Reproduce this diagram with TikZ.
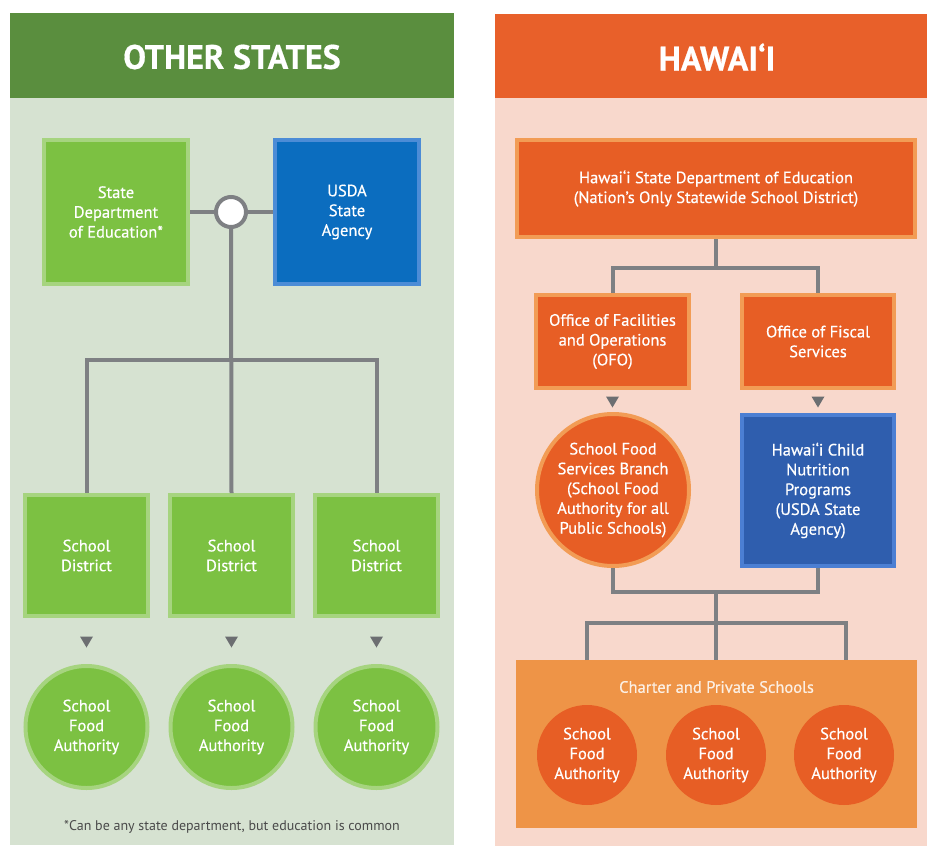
\documentclass[tikz,border=0pt]{standalone}
\usepackage{fontspec}
\setmainfont{PT Sans}[FakeBold=0.5]
\newfontfamily\plainfont{PT Sans}
\usetikzlibrary{calc}
\definecolor{hdgreen}{HTML}{5A8E3E}
\definecolor{bggreen}{HTML}{D6E2D1}
\definecolor{fgreen}{HTML}{7CC142}
\definecolor{bgreen}{HTML}{A6D47F}
\definecolor{hdorange}{HTML}{E8602A}
\definecolor{bgpink}{HTML}{F8D8CC}
\definecolor{forange}{HTML}{E75E25}
\definecolor{borange}{HTML}{F29C55}
\definecolor{charter}{HTML}{EE9447}
\definecolor{fblue}{HTML}{0B6DBF}
\definecolor{bblue}{HTML}{4C8CD6}
\definecolor{fblue2}{HTML}{2F5EAE}
\definecolor{bblue2}{HTML}{4C7FD3}
\definecolor{lgray}{HTML}{7E8083}
\definecolor{tgray}{HTML}{6C6E71}
\definecolor{ftext}{HTML}{4A4A4A}
\tikzset{
  body/.style={text=white,align=center,font=\fontsize{16.5}{19.8}\selectfont,inner sep=0pt},
  obox/.style={body,draw=borange,fill=forange,line width=4pt},
  bbox/.style={body,line width=4pt},
  gcirc/.style={body,circle,draw=bgreen,fill=fgreen,line width=4pt,minimum size=122pt},
  ocirc/.style={body,circle,fill=forange,minimum size=100pt},
  conn/.style={draw=lgray,line width=4pt},
  hdtext/.style={text=white,font=\fontsize{34}{34}\selectfont\bfseries},
}
\newcommand{\tri}[2]{\fill[tgray] (#1-6.5,#2-5.5) -- (#1+6.5,#2-5.5) -- (#1,#2+5.5) -- cycle;}
\begin{document}
\begin{tikzpicture}[x=1pt,y=-1pt]
\useasboundingbox (0,0) rectangle (927,846);
\fill[white] (0,0) rectangle (927,846);
% panels
\fill[bggreen] (10,98) rectangle (454,845);
\fill[hdgreen] (10,13) rectangle (454,98);
\fill[bgpink] (495,98) rectangle (927,846);
\fill[hdorange] (495,14) rectangle (927,98);
\node[hdtext] (h1) at (232,57) {OTHER STATES};
\node[hdtext] (h2) at (717,57) {HAWAI‘I};
% ---------- left ----------
\node[body,draw=bgreen,fill=fgreen,line width=4pt,minimum width=144pt,minimum height=144pt] (sde) at (116,212) {State\\Department\\of Education*};
\node[body,draw=bblue,fill=fblue,line width=4pt,minimum width=144pt,minimum height=144pt] (usda) at (347,212) {USDA\\State\\Agency};
\node[circle,draw=lgray,fill=white,line width=4pt,minimum size=30pt,inner sep=0pt] (hub) at (231,212) {};
\draw[conn] (sde.east) -- (hub.west);
\draw[conn] (hub.east) -- (usda.west);
\foreach \i/\x in {1/86.5,2/231.5,3/376.5}{
  \node[body,draw=bgreen,fill=fgreen,line width=4pt,minimum width=123pt,minimum height=121pt] (sd\i) at (\x,555.5) {School\\District};
  \node[gcirc] (sfa\i) at (\x,727) {School\\Food\\Authority};
  \tri{\x}{642}
}
\coordinate (bus) at (231.5,360);
\draw[conn] (hub.south) -- (sd2.north);
\draw[conn] (sd1.north) |- (bus) -| (sd3.north);
\node[text=ftext,font=\plainfont\fontsize{14}{14}\selectfont] (note) at (232,827) {*Can be any state department, but education is common};
% ---------- right ----------
\node[obox,minimum width=398pt,minimum height=97pt] (hdoe) at (716,188.5) {Hawai‘i State Department of Education\\(Nation’s Only Statewide School District)};
\node[obox,minimum width=153pt,minimum height=93pt] (ofo) at (612.5,341.5) {Office of Facilities\\and Operations\\(OFO)};
\node[obox,minimum width=152pt,minimum height=93pt] (ofs) at (818,341.5) {Office of Fiscal\\Services};
\coordinate (rb1) at (716,268);
\draw[conn] (hdoe.south) -- (rb1);
\draw[conn] (ofo.north) |- (rb1) -| (ofs.north);
\tri{612.5}{402}
\tri{818}{402}
\node[body,circle,draw=borange,fill=forange,line width=4pt,minimum size=152pt] (sfsb) at (613,490) {School Food\\Services Branch\\(School Food\\Authority for all\\Public Schools)};
\node[bbox,draw=bblue2,fill=fblue2,minimum width=152pt,minimum height=151pt] (hcnp) at (818,490.5) {Hawai‘i Child\\Nutrition\\Programs\\(USDA State\\Agency)};
\node[fill=charter,minimum width=401pt,minimum height=168pt,inner sep=0pt] (chart) at (716.5,744) {};
\node[body,text=white!85!charter] (ctitle) at (716.5,687) {Charter and Private Schools};
\foreach \i/\x in {1/587,2/716,3/844}{
  \node[ocirc] (hsfa\i) at (\x,755) {School\\Food\\Authority};
}
\coordinate (rb2) at (716,592);
\coordinate (rb3) at (716,623);
\coordinate (cl) at (587,660);
\coordinate (cm) at (716,660);
\coordinate (cr) at (846,660);
\draw[conn] (sfsb.south) |- (rb2) -| (hcnp.south);
\draw[conn] (rb2) -- (rb3);
\draw[conn] (cl) |- (rb3) -| (cr);
\draw[conn] (rb3) -- (cm);
\end{tikzpicture}
\end{document}
